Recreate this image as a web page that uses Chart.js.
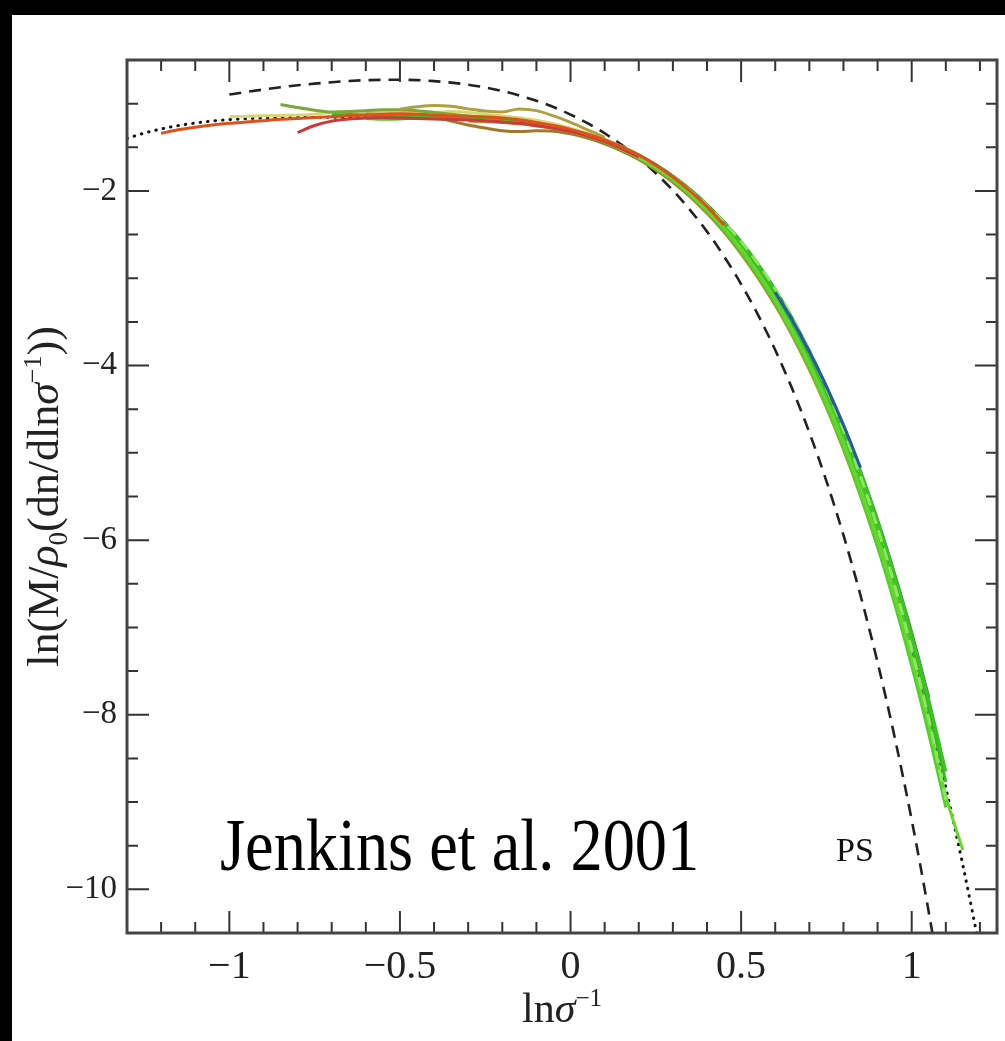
<!DOCTYPE html>
<html>
<head>
<meta charset="utf-8">
<script src="https://cdn.jsdelivr.net/npm/chart.js@4.4.1/dist/chart.umd.min.js"></script>
<style>
  html, body { margin: 0; padding: 0; background: #000; }
  canvas { display: block; }
</style>
</head>
<body>
<canvas id="massFunction" width="1005" height="1041"></canvas>
<script>
// ln(sigma^-1) grid shared by every curve
const lnSigmaInv = [-1.30,-1.25,-1.20,-1.15,-1.10,-1.05,-1.00,-0.95,-0.90,-0.85,-0.80,-0.75,-0.70,-0.65,-0.60,-0.55,-0.50,-0.45,-0.40,-0.35,-0.30,-0.25,-0.20,-0.15,-0.10,-0.05,0.00,0.05,0.10,0.15,0.20,0.25,0.30,0.35,0.40,0.45,0.50,0.55,0.60,0.65,0.70,0.75,0.80,0.85,0.90,0.95,1.00,1.05,1.10,1.15,1.20];

// Jenkins et al. (2001) fit, dotted, over the whole grid
const jenkinsFit = [-1.399,-1.338,-1.290,-1.251,-1.222,-1.199,-1.183,-1.172,-1.164,-1.159,-1.157,-1.156,-1.155,-1.155,-1.155,-1.155,-1.155,-1.156,-1.158,-1.161,-1.167,-1.176,-1.189,-1.207,-1.232,-1.265,-1.308,-1.361,-1.427,-1.508,-1.604,-1.719,-1.854,-2.011,-2.194,-2.403,-2.642,-2.913,-3.219,-3.562,-3.945,-4.372,-4.845,-5.368,-5.942,-6.574,-7.263,-8.017,-8.836,-9.724,-10.69];

// Press-Schechter, dashed, from ln(sigma^-1) = -1.00
const pressSchechterStart = -1.00;
const pressSchechter = [-0.896,-0.866,-0.838,-0.813,-0.790,-0.771,-0.754,-0.741,-0.731,-0.727,-0.726,-0.731,-0.742,-0.759,-0.783,-0.815,-0.856,-0.906,-0.967,-1.039,-1.125,-1.224,-1.339,-1.472,-1.624,-1.797,-1.993,-2.216,-2.466,-2.749,-3.067,-3.423,-3.822,-4.269,-4.767,-5.323,-5.943,-6.634,-7.401,-8.256,-9.206,-10.261,-11.43];

// Simulation mass functions (each starts at the given ln(sigma^-1))
const runA = [-1.34,-1.30,-1.27,-1.245,-1.225,-1.21,-1.195,-1.18,-1.17,-1.16,-1.15,-1.14,-1.13,-1.12,-1.115,-1.12,-1.13,-1.14,-1.145,-1.15,-1.165,-1.185,-1.215,-1.25,-1.295,-1.35,-1.415,-1.495,-1.59,-1.705,-1.84,-2.00,-2.18,-2.39];
const runB = [-1.15,-1.145,-1.14,-1.135,-1.13,-1.12,-1.10,-1.09,-1.085,-1.09,-1.10,-1.105,-1.10,-1.09,-1.10,-1.12,-1.14,-1.16,-1.19,-1.23,-1.28,-1.34,-1.41,-1.49,-1.585,-1.70,-1.835];
const runC = [-1.01,-1.045,-1.075,-1.095,-1.09,-1.08,-1.07,-1.07,-1.08,-1.10,-1.12,-1.14,-1.16,-1.18,-1.20,-1.225,-1.26,-1.30,-1.35,-1.415,-1.495,-1.59,-1.70,-1.83,-1.985,-2.165,-2.37,-2.605,-2.87,-3.17,-3.51,-3.89];
const runD = [-1.33,-1.25,-1.20,-1.175,-1.165,-1.16,-1.165,-1.17,-1.175,-1.18,-1.185,-1.195,-1.21,-1.225,-1.25,-1.28,-1.32,-1.37,-1.435,-1.515,-1.61];
const runE = [-1.10,-1.09,-1.10,-1.12,-1.15,-1.20,-1.245,-1.28,-1.31,-1.32,-1.31,-1.315,-1.345,-1.395,-1.46,-1.54,-1.635,-1.755,-1.895,-2.06,-2.25,-2.465,-2.71,-2.985,-3.30];
const runF = [-1.06,-1.035,-1.02,-1.03,-1.06,-1.085,-1.095,-1.06,-1.08,-1.14,-1.215,-1.30,-1.385];
const runG = [-1.13,-1.125,-1.13,-1.14,-1.145,-1.14,-1.14,-1.15,-1.16,-1.17,-1.185,-1.205,-1.23,-1.265,-1.305,-1.355,-1.42,-1.50,-1.595,-1.71,-1.845,-2.00,-2.18,-2.385,-2.62,-2.89,-3.19,-3.53,-3.905,-4.33,-4.80,-5.32,-5.89,-6.52,-7.20,-7.95,-8.77];
const runH = [-1.17,-1.18,-1.185,-1.19,-1.20,-1.215,-1.24,-1.27,-1.31,-1.36,-1.425,-1.50,-1.59,-1.70,-1.83,-1.98,-2.155,-2.355,-2.58,-2.84,-3.13,-3.46,-3.83,-4.24,-4.70,-5.21,-5.77,-6.39,-7.06,-7.80];
const runI = [-1.32,-1.375,-1.44,-1.52,-1.62,-1.735,-1.87,-2.03,-2.215,-2.425,-2.665,-2.94,-3.25,-3.595,-3.98,-4.41,-4.89,-5.42,-6.00,-6.64,-7.34,-8.10,-8.93,-9.55];
const runJ = [-3.16,-3.48,-3.84,-4.24,-4.68,-5.17];
const runK = [-1.60,-1.71,-1.84,-1.99,-2.165,-2.36,-2.58,-2.835,-3.12,-3.45,-3.83,-4.26,-4.74,-5.27,-5.86,-6.52,-7.25,-8.05,-8.98];
const runL = [-1.20,-1.205,-1.215,-1.23,-1.255,-1.285,-1.33,-1.385,-1.455,-1.54,-1.64,-1.76,-1.90,-2.065,-2.255,-2.47,-2.72,-3.00,-3.31,-3.66,-4.05,-4.48,-4.96,-5.49,-6.07];
const runN = [-1.17,-1.18,-1.175,-1.165,-1.17,-1.175,-1.18,-1.19,-1.20,-1.22,-1.245,-1.28,-1.32,-1.37,-1.435,-1.515,-1.61,-1.725,-1.86,-2.02,-2.205,-2.415,-2.655,-2.925,-3.23,-3.57,-3.95,-4.37,-4.84,-5.36,-5.93,-6.56,-7.24];
const runO = [-1.83,-1.985,-2.16,-2.36,-2.59,-2.85,-3.14,-3.47,-3.84,-4.25,-4.71,-5.22,-5.78,-6.40,-7.08,-7.83,-8.65];
const runP = [-1.44,-1.525,-1.625,-1.745,-1.885,-2.05,-2.24,-2.455,-2.70,-2.98,-3.29,-3.64,-4.03,-4.47,-4.95,-5.49,-6.08,-6.73,-7.44,-8.22,-9.06];

// Axis ticks
const xMajorTicks = [-1, -0.5, 0, 0.5, 1];
const xMinorTicks = [-1.2,-1.1,-0.9,-0.8,-0.7,-0.6,-0.4,-0.3,-0.2,-0.1,0.1,0.2,0.3,0.4,0.6,0.7,0.8,0.9,1.1,1.2];
const yMajorTicks = [-10, -8, -6, -4, -2];
const yMinorTicks = [-9.5,-9,-8.5,-7.5,-7,-6.5,-5.5,-5,-4.5,-3.5,-3,-2.5,-1.5,-1];

const SERIF = '"Liberation Serif", "Times New Roman", serif';

function alignPoints(x0, ys) {
  const i0 = lnSigmaInv.findIndex(x => Math.abs(x - x0) < 1e-9);
  return ys.map((y, k) => ({ x: lnSigmaInv[i0 + k], y }));
}

function simLine(label, ys, x0, color, extra) {
  return Object.assign({
    label,
    data: alignPoints(x0, ys),
    borderColor: color,
    borderWidth: 3,
    pointRadius: 0,
    fill: false,
    cubicInterpolationMode: 'monotone'
  }, extra || {});
}

function minusSign(v) {
  return String(v).replace('-', '\u2212');
}

// Draws text made of runs with their own size, style and baseline shift
function drawRichText(ctx, parts, basePx, cx, cy) {
  const fontOf = p => `${p.it ? 'italic ' : ''}${Math.round(basePx * (p.s || 1))}px ${SERIF}`;
  const widths = parts.map(p => {
    ctx.font = fontOf(p);
    return ctx.measureText(p.t).width;
  });
  const total = widths.reduce((a, b) => a + b, 0);
  let x = cx - total / 2;
  parts.forEach((p, i) => {
    ctx.font = fontOf(p);
    ctx.fillText(p.t, x, cy + (p.dy || 0) * basePx);
    x += widths[i];
  });
}

const framePlugin = {
  id: 'frameAndTicks',
  beforeDraw(chart) {
    const { ctx, width, height } = chart;
    ctx.save();
    ctx.fillStyle = '#000';
    ctx.fillRect(0, 0, width, height);
    ctx.fillStyle = '#fff';
    ctx.fillRect(12, 15, width - 12, height - 15);
    ctx.restore();
  },
  afterDraw(chart) {
    const { ctx, chartArea: a } = chart;
    const xs = chart.scales.x, ys = chart.scales.y;
    ctx.save();
    ctx.strokeStyle = '#333';
    ctx.lineWidth = 2;
    ctx.beginPath();
    const xTick = (v, len) => {
      const px = xs.getPixelForValue(v);
      ctx.moveTo(px, a.bottom); ctx.lineTo(px, a.bottom - len);
      ctx.moveTo(px, a.top); ctx.lineTo(px, a.top + len);
    };
    const yTick = (v, len) => {
      const py = ys.getPixelForValue(v);
      ctx.moveTo(a.left, py); ctx.lineTo(a.left + len, py);
      ctx.moveTo(a.right, py); ctx.lineTo(a.right - len, py);
    };
    xMajorTicks.forEach(v => xTick(v, 22));
    xMinorTicks.forEach(v => xTick(v, 11));
    yMajorTicks.forEach(v => yTick(v, 22));
    yMinorTicks.forEach(v => yTick(v, 11));
    ctx.stroke();

    ctx.strokeStyle = '#444';
    ctx.lineWidth = 3;
    ctx.strokeRect(a.left, a.top, a.right - a.left, a.bottom - a.top);

    // axis titles
    ctx.fillStyle = '#222';
    ctx.textBaseline = 'alphabetic';
    drawRichText(ctx, [
      { t: 'ln' },
      { t: '\u03C3', it: true },
      { t: '\u22121', s: 0.6, dy: -0.38 }
    ], 42, (a.left + a.right) / 2, 1022);

    ctx.save();
    ctx.translate(58, (a.top + a.bottom) / 2);
    ctx.rotate(-Math.PI / 2);
    ctx.textBaseline = 'alphabetic';
    drawRichText(ctx, [
      { t: 'ln(M/' },
      { t: '\u03C1', it: true },
      { t: '0', s: 0.62, dy: 0.2 },
      { t: '(dn/dln' },
      { t: '\u03C3', it: true },
      { t: '\u22121', s: 0.6, dy: -0.38 },
      { t: '))' }
    ], 44, 0, 0);
    ctx.restore();

    // annotations
    ctx.fillStyle = '#111';
    ctx.font = `34px ${SERIF}`;
    ctx.fillText('PS', 836, 861);

    ctx.save();
    ctx.translate(220, 870);
    ctx.scale(0.87, 1);
    ctx.font = `74px ${SERIF}`;
    ctx.fillStyle = '#000';
    ctx.fillText('Jenkins et al. 2001', 0, 0);
    ctx.restore();

    ctx.restore();
  }
};

const datasets = [
  simLine('run A', runA, -1.20, '#e0501c'),
  simLine('run D', runD, -0.80, '#c83c3c'),
  simLine('run F', runF, -0.50, '#b0a040'),
  simLine('run J', runJ, 0.60, '#2858a8'),
  simLine('run K', runK, 0.20, '#8ae85c', { borderDash: [12, 7] }),
  simLine('run I', runI, 0.00, '#66d82c'),
  simLine('run O', runO, 0.30, '#3fbf2a'),
  simLine('run N', runN, -0.60, '#4cc82a'),
  simLine('run H', runH, -0.40, '#2e8e2a'),
  simLine('run P', runP, 0.10, '#55cc30'),
  simLine('run G', runG, -0.70, '#38b820'),
  simLine('run C', runC, -0.85, '#7aa83a'),
  simLine('run B', runB, -1.00, '#d8d870'),
  simLine('run E', runE, -0.60, '#a07a2a'),
  simLine('run L', runL, -0.30, '#e47a2a'),
  {
    label: 'Jenkins et al. 2001 fit',
    data: alignPoints(lnSigmaInv[0], jenkinsFit),
    borderColor: '#111',
    borderWidth: 3,
    borderDash: [0.5, 7],
    borderCapStyle: 'round',
    pointRadius: 0,
    cubicInterpolationMode: 'monotone'
  },
  {
    label: 'PS',
    data: alignPoints(pressSchechterStart, pressSchechter),
    borderColor: '#222',
    borderWidth: 2.6,
    borderDash: [12, 8],
    pointRadius: 0,
    cubicInterpolationMode: 'monotone'
  }
];

new Chart(document.getElementById('massFunction'), {
  type: 'line',
  data: { datasets },
  options: {
    responsive: false,
    animation: false,
    devicePixelRatio: 1,
    layout: { padding: { left: 0, top: 60, right: 8, bottom: 0 } },
    plugins: { legend: { display: false }, tooltip: { enabled: false } },
    scales: {
      x: {
        type: 'linear',
        min: -1.3,
        max: 1.25,
        grid: { display: false, drawTicks: false },
        border: { display: false },
        afterBuildTicks: axis => { axis.ticks = xMajorTicks.map(value => ({ value })); },
        afterFit: axis => { axis.height = 108; },
        ticks: {
          padding: 10,
          color: '#222',
          font: { family: SERIF, size: 40 },
          maxRotation: 0,
          autoSkip: false,
          callback: v => minusSign(v)
        }
      },
      y: {
        type: 'linear',
        min: -10.5,
        max: -0.5,
        grid: { display: false, drawTicks: false },
        border: { display: false },
        afterBuildTicks: axis => { axis.ticks = yMajorTicks.map(value => ({ value })); },
        afterFit: axis => { axis.width = 127; },
        ticks: {
          padding: 10,
          color: '#222',
          font: { family: SERIF, size: 33 },
          autoSkip: false,
          callback: v => minusSign(v)
        }
      }
    }
  },
  plugins: [framePlugin]
});
</script>
</body>
</html>
